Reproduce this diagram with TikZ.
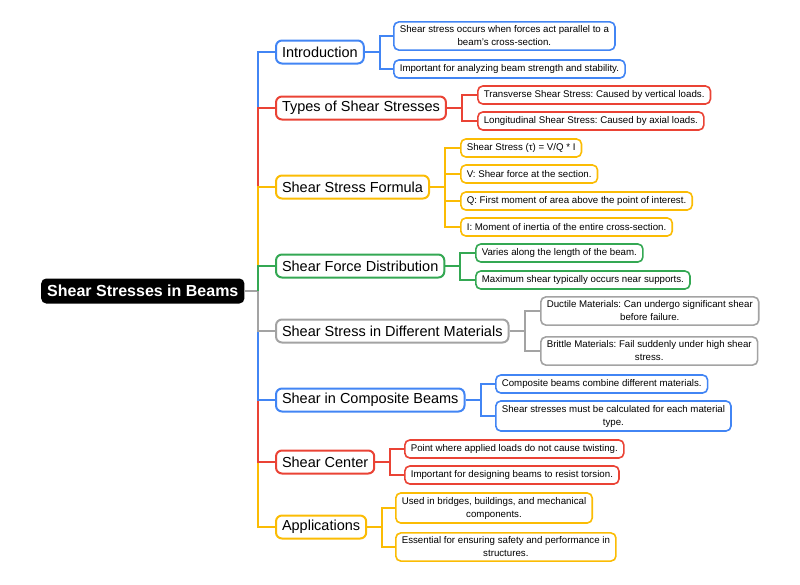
\documentclass[tikz,border=0pt]{standalone}
\usepackage{fontspec}
\setmainfont{Liberation Sans}
\usetikzlibrary{positioning,calc}
\usepackage{xcolor}
\frenchspacing

\definecolor{mmblue}{HTML}{4285F4}
\definecolor{mmred}{HTML}{EA4335}
\definecolor{mmyellow}{HTML}{FBBC04}
\definecolor{mmgreen}{HTML}{34A853}
\definecolor{mmgray}{HTML}{A3A3A3}

\begin{document}
\begin{tikzpicture}[x=1pt,y=-1pt,
    rootbox/.style={fill=black,text=white,rounded corners=5pt,anchor=west,
        font=\fontsize{16}{19}\selectfont\bfseries,minimum height=25pt,inner xsep=6pt},
    topic/.style={draw=#1,line width=2pt,fill=white,rounded corners=6pt,anchor=west,
        font=\fontsize{14.5}{17}\selectfont,minimum height=23pt,inner xsep=6pt},
    leaf/.style={draw=#1,line width=1.6pt,fill=white,rounded corners=5pt,anchor=west,
        font=\fontsize{9.7}{13}\selectfont,minimum height=18pt,inner xsep=6pt,
        inner ysep=4pt,align=center},
    link/.style={draw=#1,line width=2pt}]
            \useasboundingbox (0,0) rectangle (800,584);

            % Root
            \node[rootbox] (root) at (41,291) {Shear Stresses in Beams};
            \coordinate (hub) at (258,291);

            % Main topics
            \node[topic=mmblue] (intro) at (275,52) {Introduction};
            \node[topic=mmred] (types) at (275,108) {Types of Shear Stresses};
            \node[topic=mmyellow] (formula) at (275,187) {Shear Stress Formula};
            \node[topic=mmgreen] (dist) at (275,266) {Shear Force Distribution};
            \node[topic=mmgray] (mat) at (275,331) {Shear Stress in Different Materials};
            \node[topic=mmblue] (comp) at (275,400) {Shear in Composite Beams};
            \node[topic=mmred] (shc) at (275,462) {Shear Center};
            \node[topic=mmyellow] (apps) at (275,527) {Applications};

            % Introduction
            \node[leaf=mmblue] (intro1) at (393,36)
                {Shear stress occurs when forces act parallel to a\\beam's cross-section.};
            \node[leaf=mmblue] (intro2) at (393,69) {Important for analyzing beam strength and stability.};

            % Types
            \node[leaf=mmred] (types1) at (477,95) {Transverse Shear Stress: Caused by vertical loads.};
            \node[leaf=mmred] (types2) at (477,121) {Longitudinal Shear Stress: Caused by axial loads.};

            % Formula
            \node[leaf=mmyellow] (form1) at (460,148) {Shear Stress (τ) = V/Q * I};
            \node[leaf=mmyellow] (form2) at (460,174) {V: Shear force at the section.};
            \node[leaf=mmyellow] (form3) at (460,201) {Q: First moment of area above the point of interest.};
            \node[leaf=mmyellow] (form4) at (460,227) {I: Moment of inertia of the entire cross-section.};

            % Distribution
            \node[leaf=mmgreen] (dist1) at (475,253) {Varies along the length of the beam.};
            \node[leaf=mmgreen] (dist2) at (475,280) {Maximum shear typically occurs near supports.};

            % Materials
            \node[leaf=mmgray] (mat1) at (540,311)
                {Ductile Materials: Can undergo significant shear\\before failure.};
            \node[leaf=mmgray] (mat2) at (540,351)
                {Brittle Materials: Fail suddenly under high shear\\stress.};

            % Composite
            \node[leaf=mmblue] (comp1) at (495,384) {Composite beams combine different materials.};
            \node[leaf=mmblue] (comp2) at (495,416)
                {Shear stresses must be calculated for each material\\type.};

            % Shear center
            \node[leaf=mmred] (shc1) at (404,449) {Point where applied loads do not cause twisting.};
            \node[leaf=mmred] (shc2) at (404,475) {Important for designing beams to resist torsion.};

            % Applications
            \node[leaf=mmyellow] (apps1) at (395,508)
                {Used in bridges, buildings, and mechanical\\components.};
            \node[leaf=mmyellow] (apps2) at (395,547)
                {Essential for ensuring safety and performance in\\structures.};

            % Trunk (far branches first, near ones on top)
            \draw[link=mmgray] (root.east) -- (hub);
            \foreach \n/\c in {intro/mmblue,types/mmred,formula/mmyellow,dist/mmgreen,
                               apps/mmyellow,shc/mmred,comp/mmblue,mat/mmgray}
                \draw[link=\c] (hub) |- (\n.west);

            % Sub branches
            \foreach \p/\k/\c in {intro/intro1/mmblue,intro/intro2/mmblue,
                                  types/types1/mmred,types/types2/mmred,
                                  formula/form1/mmyellow,formula/form2/mmyellow,
                                  formula/form3/mmyellow,formula/form4/mmyellow,
                                  dist/dist1/mmgreen,dist/dist2/mmgreen,
                                  mat/mat1/mmgray,mat/mat2/mmgray,
                                  comp/comp1/mmblue,comp/comp2/mmblue,
                                  shc/shc1/mmred,shc/shc2/mmred,
                                  apps/apps1/mmyellow,apps/apps2/mmyellow}
                \draw[link=\c] (\p.east) -- ++(15,0) |- (\k.west);
        \end{tikzpicture}
\end{document}
